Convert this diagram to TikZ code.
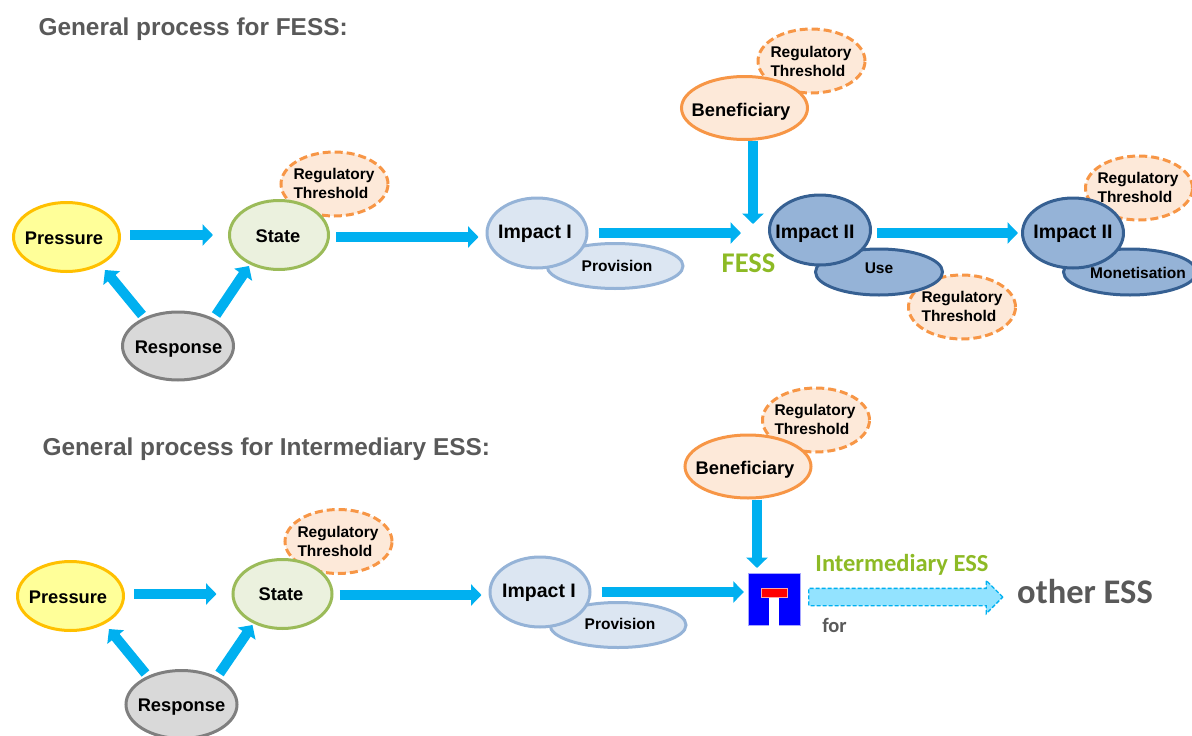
\documentclass[tikz,border=0pt]{standalone}
\usepackage{fontspec}
\setmainfont{Liberation Sans}
\newfontfamily\carlitofont{Carlito}
\usetikzlibrary{shapes.geometric,shapes.arrows,arrows.meta}
\definecolor{flowblue}{HTML}{00B0F0}
\definecolor{titlegrey}{HTML}{595959}
\definecolor{essgreen}{HTML}{8DBA25}
\definecolor{paleblue}{HTML}{DCE6F2}
\definecolor{midblue}{HTML}{95B3D7}
\definecolor{darkblue}{HTML}{366092}
\definecolor{paleorange}{HTML}{FDE9D9}
\definecolor{midorange}{HTML}{F79646}
\begin{document}
\begin{tikzpicture}
[x=1pt,y=-1pt,
  basedecorate/.style={shape=ellipse,inner sep=0pt,draw,line width=3pt},%
  pressuredecorate/.style={basedecorate,minimum width=106pt,minimum height=69pt,fill={rgb,255:red,255;green,255;blue,153},draw={rgb,255:red,255;green,192;blue,0}},%
  statedecorate/.style={basedecorate,minimum width=99pt,minimum height=69pt,fill={rgb,255:red,235;green,241;blue,222},draw={rgb,255:red,155;green,187;blue,89}},%
  responsedecorate/.style={basedecorate,minimum width=111pt,minimum height=68pt,fill={rgb,255:red,217;green,217;blue,217},draw={rgb,255:red,127;green,127;blue,127}},%
  impactdecorate/.style={basedecorate,minimum width=100pt,minimum height=70pt,fill=paleblue,draw=midblue},%
  provisiondecorate/.style={impactdecorate,minimum width=136pt,minimum height=45pt},%
  impactdarkdecorate/.style={basedecorate,minimum width=101pt,minimum height=70pt,fill=midblue,draw=darkblue},%
  usedecorate/.style={impactdarkdecorate,minimum width=127pt,minimum height=46pt},%
  beneficiarydecorate/.style={basedecorate,minimum width=126pt,minimum height=63pt,fill=paleorange,draw=midorange},%
  thresholddecorate/.style={basedecorate,minimum width=107pt,minimum height=64pt,draw=midorange,fill=paleorange,dash pattern=on 8pt off 4pt},%
  bigtext/.style={text height=13pt,text depth=0pt,font=\fontsize{18.3}{20}\selectfont\bfseries},%
  impacttext/.style={bigtext,font=\fontsize{19.5}{21}\selectfont\bfseries},%
  smalltext/.style={text height=11pt,text depth=0pt,font=\fontsize{15.5}{17}\selectfont\bfseries},%
  thresholdtext/.style={align=left,font=\fontsize{15.5}{19}\selectfont\bfseries},%
  titledecorate/.style={anchor=west,text=titlegrey,font=\fontsize{24.4}{26}\selectfont\bfseries},%
  arrowdecorate/.style={-{Triangle[length=10.5pt,width=21pt]},flowblue,line width=10pt}]
\useasboundingbox (0,0) rectangle (1192,736);
% titles
\node (titleA) [titledecorate] at (35,29) {General process for FESS:};
\node (titleB) [titledecorate] at (39,449) {General process for Intermediary ESS:};
% thresholds lie behind the rest
\node (thresholdA) at (334.5,184) [thresholddecorate] {};
\node (thresholdB) at (811.5,61) [thresholddecorate] {};
\node (thresholdC) at (962,307) [thresholddecorate] {};
\node (thresholdD) at (1139,188) [thresholddecorate] {};
\node (thresholdE) at (338.5,541.5) [thresholddecorate] {};
\node (thresholdF) at (816,420) [thresholddecorate] {};
% upper row
\node (pressureA) at (66.5,237) [pressuredecorate] {};
\node (stateA) at (279,235) [statedecorate] {};
\node (responseA) at (178,346) [responsedecorate] {};
\node (provisionA) at (615,266) [provisiondecorate] {};
\node (impactA) at (537,233) [impactdecorate] {};
\node (beneficiaryA) at (744.5,108) [beneficiarydecorate] {};
\node (use) at (879,272) [usedecorate] {};
\node (impactB) at (820,230) [impactdarkdecorate] {};
\node (monetisation) at (1130,272) [usedecorate,minimum width=133pt] {};
\node (impactC) at (1073,233) [impactdarkdecorate] {};
\coordinate (hubA) at (753,233);
\node (fess) at (748.5,263) [text=essgreen,font=\carlitofont\fontsize{28.5}{30}\selectfont\bfseries] {FESS};
% lower row
\node (pressureB) at (70.5,596) [pressuredecorate] {};
\node (stateB) at (282.5,594) [statedecorate] {};
\node (responseB) at (181.5,704.5) [responsedecorate] {};
\node (provisionB) at (618,625) [provisiondecorate] {};
\node (impactD) at (540,592) [impactdecorate] {};
\node (beneficiaryB) at (748,466.5) [beneficiarydecorate] {};
% dead end sign
\node (sign) at (774,599.5) [shape=rectangle,minimum size=52pt,inner sep=0pt,fill=blue,draw=blue!35!white] {};
\node (signstem) at (774,611.5) [shape=rectangle,minimum width=10pt,minimum height=29pt,inner sep=0pt,fill=white] {};
\node (signbar) at (774,592.5) [shape=rectangle,minimum width=26pt,minimum height=9pt,inner sep=0pt,fill=red,draw=red!35!white] {};
\coordinate (hubB) at (757,573);
\node (intermediary) at (902,565) [text=essgreen,font=\carlitofont\fontsize{24.5}{26}\selectfont\bfseries] {Intermediary ESS};
\node (forlabel) at (834.5,625) [text=titlegrey,font=\carlitofont\fontsize{20.5}{22}\selectfont\bfseries] {for};
\node (otheress) at (1085,592) [text=titlegrey,font=\carlitofont\fontsize{34.5}{36}\selectfont\bfseries] {other ESS};
\node (essarrow) at (901.5,597) [shape=single arrow,minimum height=194pt,minimum width=33pt,inner sep=8pt,single arrow head indent=0pt,single arrow head extend=8pt,draw=flowblue,fill={rgb,255:red,147;green,227;blue,255},line width=1.3pt,dash pattern=on 4pt off 2pt] {};
% texts on top
\node (pressureAtext) at (64,238) [bigtext] {Pressure};
\node (stateAtext) at (278,236) [bigtext] {State};
\node (responseAtext) at (178.5,347) [bigtext] {Response};
\node (impactAtext) at (535,232) [impacttext] {Impact I};
\node (provisionAtext) at (617,266) [smalltext] {Provision};
\node (beneficiaryAtext) at (741,110) [bigtext] {Beneficiary};
\node (impactBtext) at (815,232) [impacttext] {Impact II};
\node (usetext) at (879,268) [smalltext] {Use};
\node (impactCtext) at (1073,232) [impacttext] {Impact II};
\node (monetisationtext) at (1138,273) [smalltext] {Monetisation};
\node (pressureBtext) at (68,597) [bigtext] {Pressure};
\node (stateBtext) at (281,594) [bigtext] {State};
\node (responseBtext) at (181.5,705) [bigtext] {Response};
\node (impactDtext) at (539,591) [impacttext] {Impact I};
\node (provisionBtext) at (620,624) [smalltext] {Provision};
\node (beneficiaryBtext) at (745,468) [bigtext] {Beneficiary};
\node (thresholdAtext) at (334,183) [thresholdtext] {Regulatory\\Threshold};
\node (thresholdBtext) at (811,61) [thresholdtext] {Regulatory\\Threshold};
\node (thresholdCtext) at (962,306) [thresholdtext] {Regulatory\\Threshold};
\node (thresholdDtext) at (1138,187) [thresholdtext] {Regulatory\\Threshold};
\node (thresholdEtext) at (338,541) [thresholdtext] {Regulatory\\Threshold};
\node (thresholdFtext) at (815,419) [thresholdtext] {Regulatory\\Threshold};
% arrows
\draw[arrowdecorate,shorten <=9pt,shorten >=15pt] (pressureA.east |- stateA.west) -- (stateA.west);
\draw[arrowdecorate] ([xshift=-36pt,yshift=31pt]responseA.center) -- ([xshift=38.5pt,yshift=-33pt]pressureA.center);
\draw[arrowdecorate] ([xshift=38pt,yshift=31pt]responseA.center) -- ([xshift=-30pt,yshift=-31pt]stateA.center);
\draw[arrowdecorate,shorten <=6pt,shorten >=7pt] ([yshift=-2pt]stateA.east) -- ([yshift=-4pt]impactA.west);
\draw[arrowdecorate,shorten <=10pt,shorten >=12pt] (impactA.east) -- (hubA);
\draw[arrowdecorate,shorten >=9pt] (beneficiaryA.south -| hubA) -- (hubA);
\draw[arrowdecorate,shorten <=5pt,shorten >=3pt] (impactB.east |- impactC.west) -- (impactC.west);
\draw[arrowdecorate,shorten <=9pt,shorten >=15pt] (pressureB.east |- stateB.west) -- (stateB.west);
\draw[arrowdecorate] ([xshift=-36pt,yshift=31pt]responseB.center) -- ([xshift=38.5pt,yshift=-33pt]pressureB.center);
\draw[arrowdecorate] ([xshift=38pt,yshift=31pt]responseB.center) -- ([xshift=-30pt,yshift=-31pt]stateB.center);
\draw[arrowdecorate,shorten <=6pt,shorten >=7pt] ([yshift=-1pt]stateB.east) -- ([yshift=-3pt]impactD.west);
\draw[arrowdecorate,shorten <=10pt,shorten >=4pt] (impactD.east) -- (sign.west |- impactD.east);
\draw[arrowdecorate,shorten >=5pt] (beneficiaryB.south -| hubB) -- (hubB);
\end{tikzpicture}
\end{document}
